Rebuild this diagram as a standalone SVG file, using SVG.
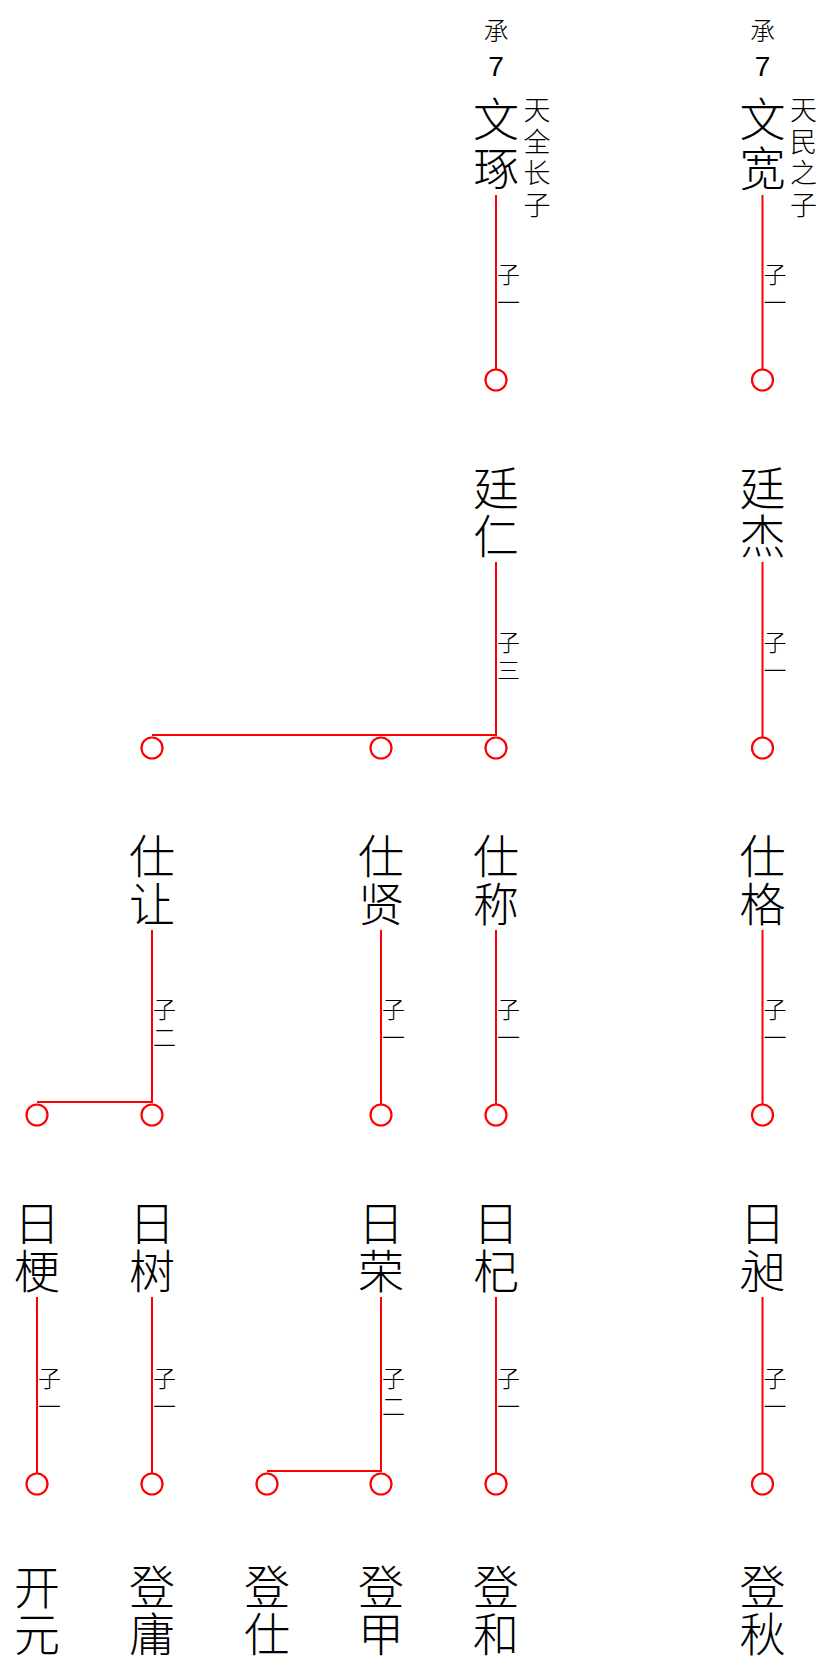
<svg xmlns="http://www.w3.org/2000/svg" width="819" height="1664" viewBox="0 0 819 1664">
<style>
.n{font-family:"Noto Sans CJK SC","Noto Sans CJK TC",sans-serif;font-size:46px;font-weight:300;fill:#000;text-anchor:middle}
.s{font-family:"Noto Sans CJK SC",sans-serif;font-size:27px;font-weight:300;fill:#000;text-anchor:middle}
.g{font-family:"Noto Sans CJK SC",sans-serif;font-size:25px;font-weight:300;fill:#000;text-anchor:middle}
.d{font-family:"Liberation Sans",Arial,sans-serif;font-size:28px;fill:#000;text-anchor:middle}
.l{font-family:"Noto Sans CJK SC",sans-serif;font-size:23px;font-weight:300;fill:#000;text-anchor:middle}
.c line{stroke:#ff0000;stroke-width:2}
.c circle{stroke:#ff0000;stroke-width:2.2;fill:none}
</style>
<rect width="819" height="1664" fill="#fff"/>
<g class="c" id="connectors">
  <!-- gen1 -> gen2 -->
  <line x1="496" y1="195" x2="496" y2="370"/><circle cx="496" cy="380" r="10.5"/>
  <text class="l" x="508.5 508.5" y="283 311">子一</text>
  <line x1="762.5" y1="195" x2="762.5" y2="370"/><circle cx="762.5" cy="380" r="10.5"/>
  <text class="l" x="775 775" y="283 311">子一</text>
  <!-- gen2 -> gen3 -->
  <line x1="496" y1="562" x2="496" y2="735"/><line x1="152" y1="735" x2="497" y2="735"/>
  <circle cx="152" cy="748" r="10.5"/><circle cx="381" cy="748" r="10.5"/><circle cx="496" cy="748" r="10.5"/>
  <text class="l" x="508.5 508.5" y="651 679">子三</text>
  <line x1="762.5" y1="562" x2="762.5" y2="738"/><circle cx="762.5" cy="748" r="10.5"/>
  <text class="l" x="775 775" y="651 679">子一</text>
  <!-- gen3 -> gen4 -->
  <line x1="152" y1="930" x2="152" y2="1102"/><line x1="37" y1="1102" x2="153" y2="1102"/>
  <circle cx="37" cy="1115" r="10.5"/><circle cx="152" cy="1115" r="10.5"/>
  <text class="l" x="164.5 164.5" y="1018 1046">子二</text>
  <line x1="381" y1="930" x2="381" y2="1105"/><circle cx="381" cy="1115" r="10.5"/>
  <text class="l" x="393.5 393.5" y="1018 1046">子一</text>
  <line x1="496" y1="930" x2="496" y2="1105"/><circle cx="496" cy="1115" r="10.5"/>
  <text class="l" x="508.5 508.5" y="1018 1046">子一</text>
  <line x1="762.5" y1="930" x2="762.5" y2="1105"/><circle cx="762.5" cy="1115" r="10.5"/>
  <text class="l" x="775 775" y="1018 1046">子一</text>
  <!-- gen4 -> gen5 -->
  <line x1="37" y1="1297" x2="37" y2="1474"/><circle cx="37" cy="1484" r="10.5"/>
  <text class="l" x="49.5 49.5" y="1387 1415">子一</text>
  <line x1="152" y1="1297" x2="152" y2="1474"/><circle cx="152" cy="1484" r="10.5"/>
  <text class="l" x="164.5 164.5" y="1387 1415">子一</text>
  <line x1="381" y1="1297" x2="381" y2="1471"/><line x1="267" y1="1471" x2="382" y2="1471"/>
  <circle cx="267" cy="1484" r="10.5"/><circle cx="381" cy="1484" r="10.5"/>
  <text class="l" x="393.5 393.5" y="1387 1415">子二</text>
  <line x1="496" y1="1297" x2="496" y2="1474"/><circle cx="496" cy="1484" r="10.5"/>
  <text class="l" x="508.5 508.5" y="1387 1415">子一</text>
  <line x1="762.5" y1="1297" x2="762.5" y2="1474"/><circle cx="762.5" cy="1484" r="10.5"/>
  <text class="l" x="775 775" y="1387 1415">子一</text>
</g>
<!-- gen1 -->
<g id="n-wenzhuo">
  <text class="g" x="496" y="39.5">承</text>
  <text class="d" x="496" y="76">7</text>
  <text class="n" x="496 496" y="136 185">文琢</text>
  <text class="s" x="537 537 537 537" y="120 151.5 183 214.5">天全长子</text>
</g>
<g id="n-wenkuan">
  <text class="g" x="762.5" y="39.5">承</text>
  <text class="d" x="762.5" y="76">7</text>
  <text class="n" x="762.5 762.5" y="136 185">文宽</text>
  <text class="s" x="803.5 803.5 803.5 803.5" y="120 151.5 183 214.5">天民之子</text>
</g>
<!-- gen2 -->
<g id="n-tingren"><text class="n" x="496 496" y="504.5 552.5">廷仁</text></g>
<g id="n-tingjie"><text class="n" x="762.5 762.5" y="504.5 552.5">廷杰</text></g>
<!-- gen3 -->
<g id="n-shirang"><text class="n" x="152 152" y="872.5 920.5">仕让</text></g>
<g id="n-shixian"><text class="n" x="381 381" y="872.5 920.5">仕贤</text></g>
<g id="n-shicheng"><text class="n" x="496 496" y="872.5 920.5">仕称</text></g>
<g id="n-shige"><text class="n" x="762.5 762.5" y="872.5 920.5">仕格</text></g>
<!-- gen4 -->
<g id="n-rigeng"><text class="n" x="37 37" y="1239.5 1287.5">日梗</text></g>
<g id="n-rishu"><text class="n" x="152 152" y="1239.5 1287.5">日树</text></g>
<g id="n-rirong"><text class="n" x="381 381" y="1239.5 1287.5">日荣</text></g>
<g id="n-riqi"><text class="n" x="496 496" y="1239.5 1287.5">日杞</text></g>
<g id="n-richang"><text class="n" x="762.5 762.5" y="1239.5 1287.5">日昶</text></g>
<!-- gen5 -->
<g id="n-kaiyuan"><text class="n" x="37 37" y="1603.5 1650.5">开元</text></g>
<g id="n-dengyong"><text class="n" x="152 152" y="1603.5 1650.5">登庸</text></g>
<g id="n-dengshi"><text class="n" x="267 267" y="1603.5 1650.5">登仕</text></g>
<g id="n-dengjia"><text class="n" x="381 381" y="1603.5 1650.5">登甲</text></g>
<g id="n-denghe"><text class="n" x="496 496" y="1603.5 1650.5">登和</text></g>
<g id="n-dengqiu"><text class="n" x="762.5 762.5" y="1603.5 1650.5">登秋</text></g>
</svg>
